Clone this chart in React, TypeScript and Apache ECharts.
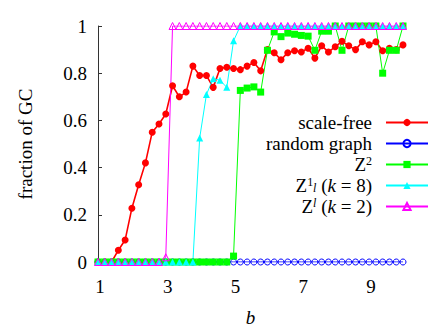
import React, { useEffect, useRef } from "react";
import * as echarts from "echarts";

const bValues = [
  1.0, 1.2, 1.4, 1.6, 1.8, 2.0, 2.2, 2.4, 2.6, 2.8,
  3.0, 3.2, 3.4, 3.6, 3.8, 4.0, 4.2, 4.4, 4.6, 4.8,
  5.0, 5.2, 5.4, 5.6, 5.8, 6.0, 6.2, 6.4, 6.6, 6.8,
  7.0, 7.2, 7.4, 7.6, 7.8, 8.0, 8.2, 8.4, 8.6, 8.8,
  9.0, 9.2, 9.4, 9.6, 9.8, 10.0,
];

const scaleFree = [
  0, 0, 0, 0.05, 0.093, 0.228, 0.327, 0.42, 0.55, 0.585,
  0.627, 0.747, 0.7, 0.72, 0.83, 0.79, 0.79, 0.74, 0.82, 0.825,
  0.82, 0.815, 0.83, 0.845, 0.81, 0.9, 0.887, 0.857, 0.887, 0.895,
  0.89, 0.906, 0.864, 0.916, 0.89, 0.912, 0.935, 0.916, 0.9, 0.933,
  0.92, 0.933, 0.895, 0.906, 0.9, 0.92,
];

const randomGraph = [
  0, 0, 0, 0, 0, 0, 0, 0, 0, 0,
  0, 0, 0, 0, 0, 0, 0, 0, 0, 0,
  0, 0, 0, 0, 0, 0, 0, 0, 0, 0,
  0, 0, 0, 0, 0, 0, 0, 0, 0, 0,
  0, 0, 0, 0, 0, 0,
];

const z2 = [
  0, 0, 0, 0, 0, 0, 0, 0, 0, 0,
  0, 0, 0, 0, 0, 0, 0, 0, 0, 0,
  0.025, 0.727, 0.737, 0.742, 0.72, 0.897, 0.975, 0.955, 0.97, 0.965,
  0.96, 0.957, 0.897, 0.978, 0.978, 1.0, 0.897, 1.0, 1.0, 1.0,
  1.0, 1.0, 0.8, 0.897, 0.897, 1.0,
];

const z1k8 = [
  0, 0, 0, 0, 0, 0, 0, 0, 0, 0,
  0, 0, 0, 0, 0, 0.525, 0.71, 0.777, 0.77, 0.74,
  0.937, 1, 1, 1, 1, 1, 1, 1, 1, 1,
  1, 1, 1, 1, 1, 1, 1, 1, 1, 1,
  1, 1, 1, 1, 1, 1,
];

const zlk2 = [
  0, 0, 0, 0, 0, 0, 0, 0, 0, 0,
  0.02, 1, 1, 1, 1, 1, 1, 1, 1, 1,
  1, 1, 1, 1, 1, 1, 1, 1, 1, 1,
  1, 1, 1, 1, 1, 1, 1, 1, 1, 1,
  1, 1, 1, 1, 1, 1,
];

const yTicks = [0, 0.2, 0.4, 0.6, 0.8, 1];
const xTickLabels = [1, 3, 5, 7, 9];

const seriesNames = ["scale-free", "random graph", "Z2", "Z1k8", "Zlk2"];
const legendLabels: Record<string, string> = {
  "scale-free": "scale-free",
  "random graph": "random graph",
  Z2: "Z{sup|2}",
  Z1k8: "Z{sup|1}{sub|l} ({i|k} = 8)",
  Zlk2: "Z{supi|l} ({i|k} = 2)",
};

const FONT = "'Liberation Serif', 'Times New Roman', 'DejaVu Serif', serif";

function pairs(vals: number[]) {
  return bValues.map((b, i) => [b, vals[i]]);
}

export default function App() {
  const ref = useRef<HTMLDivElement>(null);
  useEffect(() => {
    if (!ref.current) return;
    const chart = echarts.init(ref.current, undefined, { renderer: "svg" });
    chart.setOption({
      animation: false,
      backgroundColor: "#ffffff",
      textStyle: { fontFamily: FONT, color: "#000" },
      grid: {
        left: 98,
        right: 33,
        top: 26,
        bottom: 65,
        containLabel: false,
        outerBoundsMode: "none",
      },
      legend: {
        orient: "vertical",
        right: 7,
        top: 112,
        padding: 0,
        align: "right",
        itemWidth: 42,
        itemHeight: 9,
        itemGap: 0,
        data: seriesNames,
        formatter: (name: string) => legendLabels[name],
        textStyle: {
          fontFamily: FONT,
          fontSize: 19,
          lineHeight: 21,
          color: "#000",
          padding: [0, 9, 0, 0],
          rich: {
            sup: { fontFamily: FONT, fontSize: 12, lineHeight: 11, verticalAlign: "top", padding: [1, 0, 0, 0], color: "#000" },
            supi: { fontFamily: FONT, fontSize: 12, lineHeight: 11, verticalAlign: "top", padding: [1, 0, 0, 0], fontStyle: "italic", color: "#000" },
            sub: { fontFamily: FONT, fontSize: 12, lineHeight: 11, verticalAlign: "bottom", padding: [0, 0, 2, 0], fontStyle: "italic", color: "#000" },
            i: { fontFamily: FONT, fontSize: 19, lineHeight: 21, fontStyle: "italic", color: "#000" },
          },
        },
      },
      xAxis: {
        type: "value",
        min: 1,
        max: 10,
        interval: 1,
        name: "b",
        nameLocation: "middle",
        nameGap: 46,
        nameTextStyle: { fontFamily: FONT, fontSize: 19, lineHeight: 18, fontStyle: "italic", color: "#000" },
        axisLine: { show: false },
        axisTick: { show: false },
        splitLine: { show: false },
        axisLabel: {
          margin: 15,
          fontFamily: FONT,
          fontSize: 19,
          color: "#000",
          padding: [0, 0, 0, 4],
          formatter: (v: number) => (xTickLabels.includes(Math.round(v)) && Math.abs(v - Math.round(v)) < 1e-6 ? String(Math.round(v)) : ""),
        },
      },
      yAxis: {
        type: "value",
        min: yTicks[0],
        max: yTicks[yTicks.length - 1],
        interval: 0.2,
        name: "fraction of GC",
        nameLocation: "middle",
        nameGap: 63,
        nameTextStyle: { fontFamily: FONT, fontSize: 19, color: "#000" },
        axisLine: { show: true, lineStyle: { color: "#333", width: 1 } },
        axisTick: { show: true, inside: true, length: 4, lineStyle: { color: "#333" } },
        splitLine: { show: false },
        axisLabel: {
          margin: 11,
          fontFamily: FONT,
          fontSize: 19,
          color: "#000",
          formatter: (v: number) => String(Math.round(v * 10) / 10),
        },
      },
      series: [
        {
          name: "scale-free",
          type: "line",
          data: pairs(scaleFree),
          symbol: "circle",
          symbolSize: 7,
          showAllSymbol: true,
          lineStyle: { color: "#ff0000", width: 1.6 },
          itemStyle: { color: "#ff0000" },
          emphasis: { disabled: true },
        },
        {
          name: "random graph",
          type: "line",
          data: pairs(randomGraph),
          symbol: "circle",
          symbolSize: 6,
          showAllSymbol: true,
          lineStyle: { color: "#0000ff", width: 1 },
          itemStyle: { color: "rgba(0,0,0,0)", borderColor: "#0000ff", borderWidth: 1 },
          emphasis: { disabled: true },
        },
        {
          name: "Z2",
          type: "line",
          data: pairs(z2),
          symbol: "rect",
          symbolSize: 7,
          showAllSymbol: true,
          lineStyle: { color: "#00ff00", width: 1 },
          itemStyle: { color: "#00ff00" },
          emphasis: { disabled: true },
        },
        {
          name: "Z1k8",
          type: "line",
          data: pairs(z1k8),
          symbol: "triangle",
          symbolSize: 7,
          showAllSymbol: true,
          lineStyle: { color: "#00ffff", width: 1 },
          itemStyle: { color: "#00ffff" },
          emphasis: { disabled: true },
        },
        {
          name: "Zlk2",
          type: "line",
          data: pairs(zlk2),
          symbol: "triangle",
          symbolSize: 7,
          showAllSymbol: true,
          lineStyle: { color: "#ff00ff", width: 1 },
          itemStyle: { color: "rgba(0,0,0,0)", borderColor: "#ff00ff", borderWidth: 1 },
          emphasis: { disabled: true },
        },
      ],
    });
    return () => chart.dispose();
  }, []);
  return (
    <div
      ref={ref}
      style={{ position: "fixed", left: 0, top: 0, width: 436, height: 327 }}
    />
  );
}
